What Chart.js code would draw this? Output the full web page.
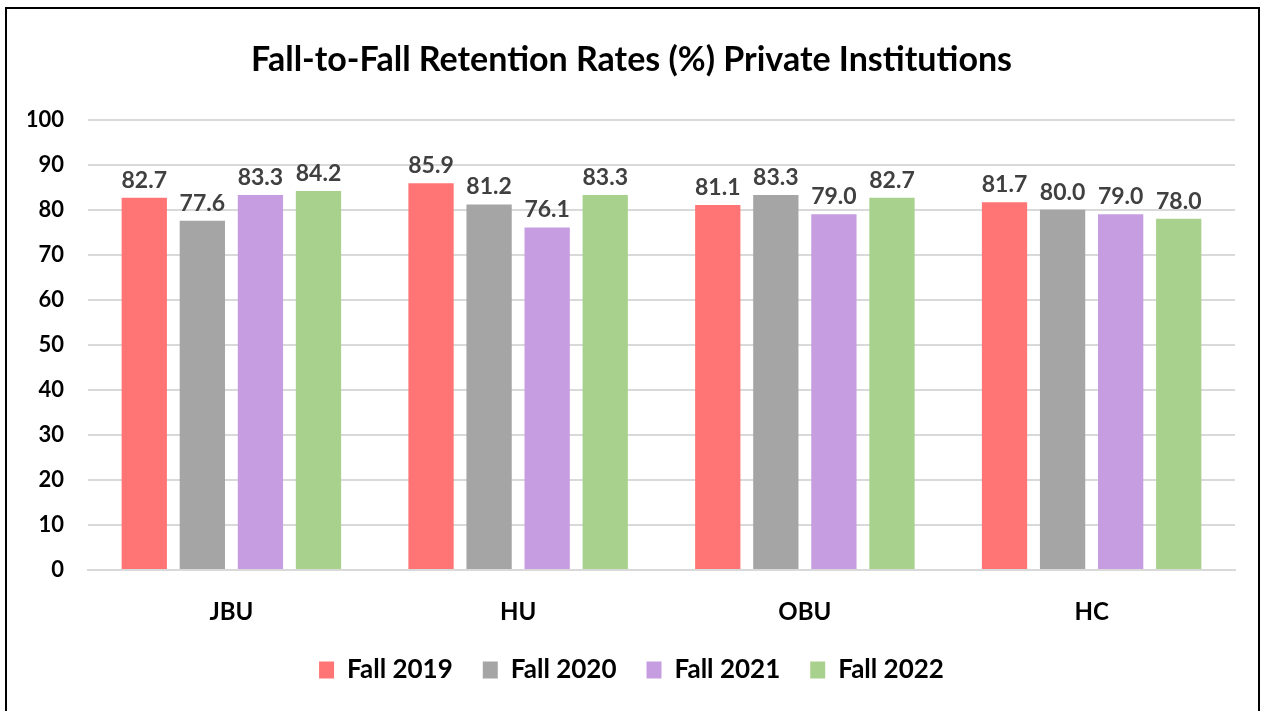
<!DOCTYPE html>
<html>
<head>
<meta charset="utf-8">
<script src="https://cdn.jsdelivr.net/npm/chart.js@4.4.0/dist/chart.umd.min.js"></script>
<style>
  body { margin: 0; background: #fff; }
  #wrap { position: relative; width: 1263px; height: 711px; }
  #frame { position: absolute; left: 5px; top: 7px; width: 1251px; height: 720px; border: 2px solid #000; pointer-events: none; }
</style>
</head>
<body>
<div id="wrap">
  <canvas id="grafico" width="1263" height="711"></canvas>
  <div id="frame"></div>
</div>
<script>
// Datos
const categorias = ['JBU', 'HU', 'OBU', 'HC'];
const fall2019 = [82.7, 85.9, 81.1, 81.7];
const fall2020 = [77.6, 81.2, 83.3, 80.0];
const fall2021 = [83.3, 76.1, 79.0, 79.0];
const fall2022 = [84.2, 83.3, 82.7, 78.0];
const ticksY = [0, 10, 20, 30, 40, 50, 60, 70, 80, 90, 100];

const fuente = 'Lato, "Open Sans", sans-serif';

// Etiquetas sobre las barras
const etiquetas = {
  id: 'etiquetas',
  afterDatasetsDraw(chart) {
    const ctx = chart.ctx;
    ctx.save();
    ctx.font = 'bold 23px ' + fuente;
    ctx.fillStyle = '#404040';
    ctx.textAlign = 'center';
    ctx.textBaseline = 'bottom';
    chart.data.datasets.forEach((ds, i) => {
      chart.getDatasetMeta(i).data.forEach((bar, j) => {
        ctx.fillText(ds.data[j].toFixed(1), bar.x, bar.y - 6);
      });
    });
    ctx.restore();
  }
};

const serie = (label, data, color) => ({
  label: label,
  data: data,
  backgroundColor: color,
  borderWidth: 0,
  barPercentage: 0.78,
  categoryPercentage: 0.81
});

const config = {
  type: 'bar',
  data: {
    labels: categorias,
    datasets: [
      serie('Fall 2019', fall2019, '#FF7575'),
      serie('Fall 2020', fall2020, '#A5A5A5'),
      serie('Fall 2021', fall2021, '#C59DE0'),
      serie('Fall 2022', fall2022, '#A9D18E')
    ]
  },
  options: {
    responsive: false,
    animation: false,
    layout: { padding: { left: 28, right: 28, top: 30, bottom: 18 } },
    plugins: {
      title: {
        display: true,
        text: 'Fall-to-Fall Retention Rates (%) Private Institutions',
        color: '#000',
        font: { family: fuente, size: 34, weight: 'bold' },
        padding: { top: 10, bottom: 39 }
      },
      legend: {
        position: 'bottom',
        labels: {
          color: '#000',
          font: { family: fuente, size: 26, weight: 'bold' },
          boxWidth: 15,
          boxHeight: 17,
          padding: 30
        }
      },
      tooltip: { enabled: false }
    },
    scales: {
      y: {
        min: 0,
        max: 100,
        afterBuildTicks(scale) { scale.ticks = ticksY.map(v => ({ value: v })); },
        afterFit(scale) { scale.width = 60; },
        ticks: {
          color: '#000',
          font: { family: fuente, size: 22, weight: 'bold' },
          padding: 24
        },
        grid: { color: '#D9D9D9', lineWidth: 2, drawTicks: false },
        border: { display: false }
      },
      x: {
        afterFit(scale) { scale.height = 57; },
        ticks: {
          color: '#000',
          font: { family: fuente, size: 24, weight: 'bold' },
          padding: 28
        },
        grid: { display: false, drawTicks: false },
        border: { color: '#D9D9D9', width: 2 }
      }
    }
  },
  plugins: [etiquetas]
};

const ctxGrafico = document.getElementById('grafico').getContext('2d');
new Chart(ctxGrafico, config);
</script>
</body>
</html>
